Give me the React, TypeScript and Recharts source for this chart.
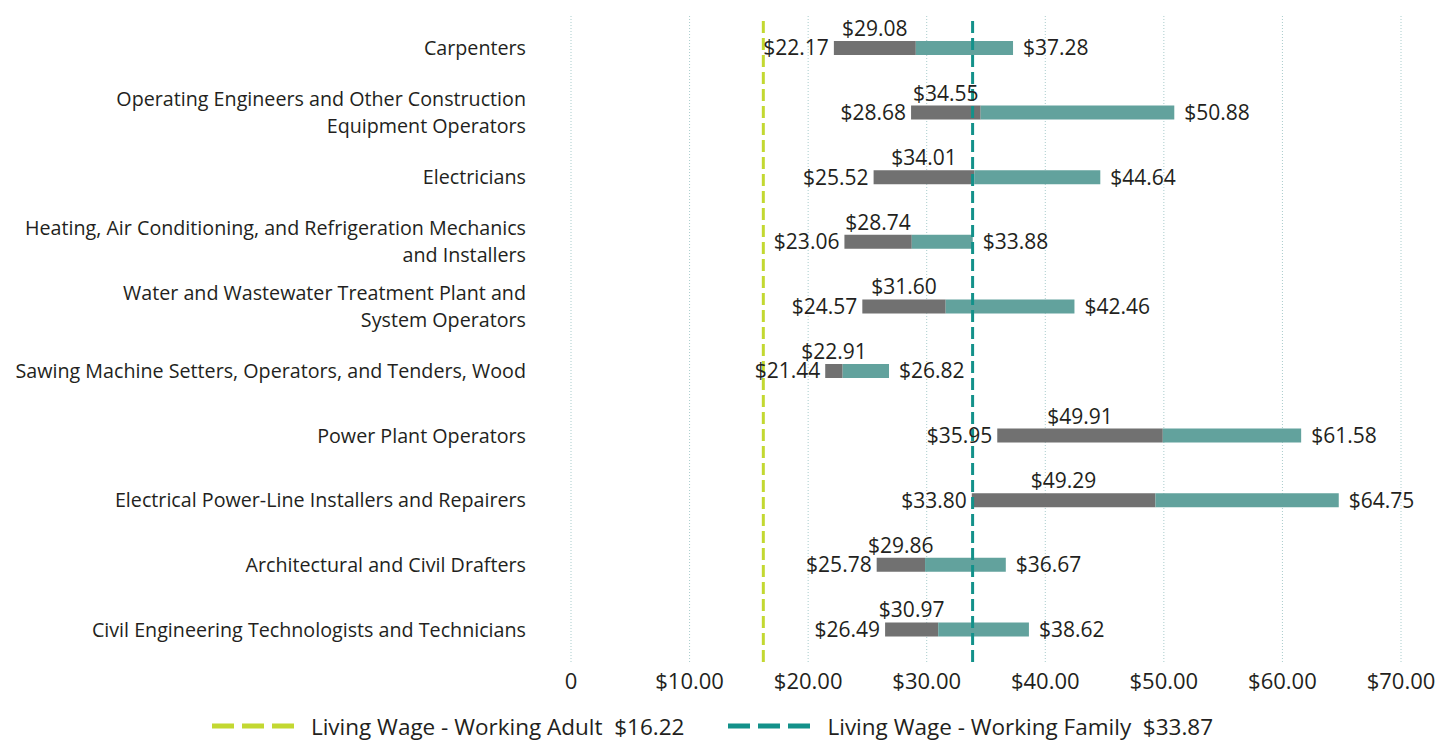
import { BarChart, Bar, XAxis, YAxis, CartesianGrid, ReferenceLine, LabelList, Legend } from "recharts";

const categories = [
  "Carpenters",
  "Operating Engineers and Other Construction\nEquipment Operators",
  "Electricians",
  "Heating, Air Conditioning, and Refrigeration Mechanics\nand Installers",
  "Water and Wastewater Treatment Plant and\nSystem Operators",
  "Sawing Machine Setters, Operators, and Tenders, Wood",
  "Power Plant Operators",
  "Electrical Power-Line Installers and Repairers",
  "Architectural and Civil Drafters",
  "Civil Engineering Technologists and Technicians",
];
const low = [22.17, 28.68, 25.52, 23.06, 24.57, 21.44, 35.95, 33.8, 25.78, 26.49];
const median = [29.08, 34.55, 34.01, 28.74, 31.6, 22.91, 49.91, 49.29, 29.86, 30.97];
const high = [37.28, 50.88, 44.64, 33.88, 42.46, 26.82, 61.58, 64.75, 36.67, 38.62];
const xTicks = [0, 10, 20, 30, 40, 50, 60, 70];
const adultWage = 16.22;
const familyWage = 33.87;

const data = categories.map((name, i) => ({
  name,
  low: low[i],
  median: median[i],
  high: high[i],
  base: low[i],
  lower: median[i] - low[i],
  upper: high[i] - median[i],
}));

const FONT = "'Open Sans', sans-serif";
const TEXT = "#231f20";
const money = (v: number) => `$${v.toFixed(2)}`;
const numStyle = { fill: TEXT, fontSize: 21, fontFamily: FONT };

const CategoryTick = ({ x, y, payload }: any) => {
  const lines = String(payload.value).split("\n");
  const lh = 27;
  const start = y - ((lines.length - 1) * lh) / 2;
  return (
    <text x={x - 37} y={start} textAnchor="end" fill={TEXT} fontSize={19.7} fontFamily={FONT}>
      {lines.map((l, i) => (
        <tspan key={i} x={x - 37} y={start + i * lh} dy="0.35em">{l}</tspan>
      ))}
    </text>
  );
};

const LegendContent = () => {
  const item = (color: string, label: string) => (
    <div style={{ display: "flex", alignItems: "center" }}>
      <svg width={82} height={10} style={{ marginRight: 17 }}>
        <line x1={0} y1={5} x2={82} y2={5} stroke={color} strokeWidth={5} strokeDasharray="22 8" />
      </svg>
      <span style={{ fontFamily: FONT, fontSize: 22.5, color: TEXT, whiteSpace: "pre" }}>{label}</span>
    </div>
  );
  return (
    <div style={{ height: 40, paddingTop: 8, boxSizing: "border-box", paddingLeft: 24, display: "flex", justifyContent: "center", alignItems: "center", gap: 44 }}>
      {item("#c3d831", `Living Wage - Working Adult  $${adultWage.toFixed(2)}`)}
      {item("#13918a", `Living Wage - Working Family  $${familyWage.toFixed(2)}`)}
    </div>
  );
};

export default function App() {
  return (
    <div style={{ position: "absolute", left: 0, top: 0, background: "#fff" }}>
      <BarChart
        width={1455}
        height={742}
        data={data}
        layout="vertical"
        margin={{ top: 16, right: 54, left: 0, bottom: 0 }}
        barSize={14}
      >
        <CartesianGrid horizontal={false} stroke="#a9cccc" strokeDasharray="1 2" />
        <XAxis
          type="number"
          domain={[0, 70]}
          ticks={xTicks}
          axisLine={false}
          tickLine={false}
          height={40}
          tick={{ ...numStyle, fontSize: 22 }}
          tickFormatter={(v: number) => (v === 0 ? "0" : money(v))}
          dy={3}
        />
        <YAxis
          type="category"
          dataKey="name"
          width={571}
          axisLine={false}
          tickLine={false}
          tick={<CategoryTick />}
          interval={0}
        />
        <Bar dataKey="base" stackId="a" fill="transparent" isAnimationActive={false} />
        <Bar dataKey="lower" stackId="a" fill="#717171" isAnimationActive={false}>
          <LabelList dataKey="low" position="left" offset={5} formatter={(v: number) => money(v)} style={numStyle} />
          <LabelList dataKey="median" position="top" offset={5} formatter={(v: number) => money(v)} style={numStyle} />
        </Bar>
        <Bar dataKey="upper" stackId="a" fill="#62a29d" isAnimationActive={false}>
          <LabelList dataKey="high" position="right" offset={10} formatter={(v: number) => money(v)} style={numStyle} />
        </Bar>
        <ReferenceLine x={adultWage} stroke="#c3d831" strokeWidth={3} strokeDasharray="12 5" />
        <ReferenceLine x={familyWage} stroke="#13918a" strokeWidth={3} strokeDasharray="12 5" />
        <Legend verticalAlign="bottom" content={<LegendContent />} />
      </BarChart>
    </div>
  );
}
